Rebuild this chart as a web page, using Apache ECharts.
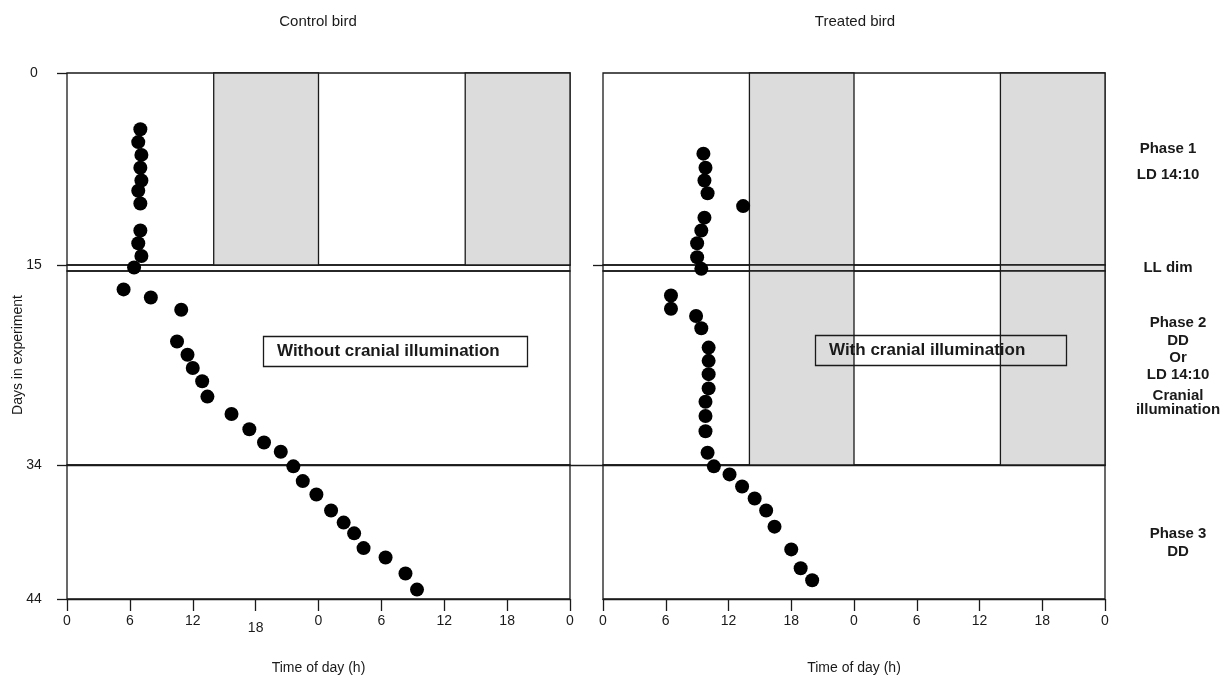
<!DOCTYPE html>
<html><head><meta charset="utf-8">
<script src="https://cdn.jsdelivr.net/npm/echarts@6/dist/echarts.min.js"></script>
<style>html,body{margin:0;padding:0;background:#fff}#c{width:1224px;height:680px}</style>
</head><body><div id="c"></div>
<script>
// ---------- data ----------
const panelTitles = ['Control bird', 'Treated bird'];
const boxTexts = ['Without cranial illumination', 'With cranial illumination'];
const xTickHours = [0, 6, 12, 18, 24, 30, 36, 42, 48];
const xTickLabels = ['0', '6', '12', '18', '0', '6', '12', '18', '0'];
const dayTicks = [0, 15, 34, 44];
const darkHours = [[14, 24], [38, 48]];   // lights-off periods (LD 14:10), double plotted

const controlHours = [7.0, 6.8, 7.1, 7.0, 7.1, 6.8, 7.0, 7.0, 6.8, 7.1, 6.4,
  5.4, 8.0, 10.9, 10.5, 11.5, 12.0, 12.9, 13.4, 15.7, 17.4, 18.8, 20.4, 21.6,
  22.5, 23.8, 25.2, 26.4, 27.4, 28.3, 30.4, 32.3, 33.4];
const controlDays = [4.4, 5.4, 6.4, 7.4, 8.4, 9.2, 10.2, 12.3, 13.3, 14.3, 15.2,
  16.8, 17.6, 18.8, 21.9, 23.2, 24.5, 25.8, 27.3, 29.0, 30.5, 31.8, 32.7, 34.1,
  35.2, 36.2, 37.4, 38.3, 39.1, 40.2, 40.9, 42.1, 43.3];

const treatedHours = [9.6, 9.8, 9.7, 10.0, 13.4, 9.7, 9.4, 9.0, 9.0, 9.4,
  6.5, 6.5, 8.9, 9.4, 10.1, 10.1, 10.1, 10.1, 9.8, 9.8, 9.8, 10.0,
  10.6, 12.1, 13.3, 14.5, 15.6, 16.4, 18.0, 18.9, 20.0];
const treatedDays = [6.3, 7.4, 8.4, 9.4, 10.4, 11.3, 12.3, 13.3, 14.4, 15.3,
  17.4, 18.7, 19.4, 20.6, 22.5, 23.8, 25.1, 26.5, 27.8, 29.2, 30.7, 32.8,
  34.1, 34.7, 35.6, 36.5, 37.4, 38.6, 40.3, 41.7, 42.6];

const phaseLabelLines = [
  ['Phase 1', 'LD 14:10'],
  ['LL dim'],
  ['Phase 2', 'DD', 'Or', 'LD 14:10', 'Cranial', 'illumination'],
  ['Phase 3', 'DD']
];

// ---------- layout ----------
const FONT = '"Liberation Sans", Arial, Helvetica, sans-serif';
const INK = '#1a1a1a';
const cols = [{ left: 67, width: 503 }, { left: 603, width: 502 }];
const rows = [
  { min: 0, max: 15, top: 73, height: 192 },     // phase 1
  { min: 0, max: 1, top: 265, height: 6 },       // LL dim band
  { min: 15, max: 34, top: 271, height: 194 },   // phase 2
  { min: 34, max: 44, top: 465, height: 134 }    // phase 3
];
const shaded = [[true, false, false, false], [true, true, true, false]];
const yLabelVals = [[[0, 15], [], [], [34, 44]], [[], [], [], []]];
const yTickVals = [[[0, 15], [], [], [34, 44]], [[15], [], [], []]];
const hoursData = [controlHours, treatedHours];
const daysData = [controlDays, treatedDays];

function rowOf(d) { return d <= 15.5 ? 0 : (d < 34 ? 2 : 3); }

const grid = [], xAxis = [], yAxis = [], series = [];
cols.forEach((c, p) => {
  rows.forEach((r, ri) => {
    const gi = grid.length;
    grid.push({ left: c.left, width: c.width, top: r.top, height: r.height, show: true,
      borderColor: INK, borderWidth: 1.3, backgroundColor: 'transparent' });
    const isBottom = ri === 3;
    xAxis.push({
      type: 'value', gridIndex: gi, min: 0, max: 48, interval: 6,
      axisLine: { show: isBottom, onZero: false, lineStyle: { color: INK, width: 1.3 } },
      axisTick: { show: isBottom, length: 12, lineStyle: { color: INK, width: 1.3 } },
      axisLabel: {
        show: isBottom, margin: 15, color: INK, fontFamily: FONT, fontSize: 14,
        formatter: v => {
          const lab = xTickLabels[xTickHours.indexOf(v)];
          return (p === 0 && v === 18) ? '{low|' + lab + '}' : lab;
        },
        rich: { low: { padding: [7, 0, 0, 0], fontSize: 14, fontFamily: FONT, color: INK } }
      },
      splitLine: { show: false },
      name: isBottom ? 'Time of day (h)' : '', nameLocation: 'middle', nameGap: 62,
      nameTextStyle: { color: INK, fontFamily: FONT, fontSize: 14 }
    });
    yAxis.push({
      type: 'value', gridIndex: gi, inverse: true, min: r.min, max: r.max,
      axisLine: { show: false },
      axisTick: { show: yTickVals[p][ri].length > 0, customValues: yTickVals[p][ri], length: 10,
        lineStyle: { color: INK, width: 1.3 } },
      axisLabel: { show: yLabelVals[p][ri].length > 0, customValues: yLabelVals[p][ri],
        align: 'center', margin: 33, color: INK, fontFamily: FONT, fontSize: 14,
        formatter: v => dayTicks.includes(v) ? String(v) : '' },
      splitLine: { show: false }
    });
    const pts = [];
    hoursData[p].forEach((h, i) => {
      if (rowOf(daysData[p][i]) === ri) pts.push([h, daysData[p][i]]);
    });
    const s = {
      type: 'scatter', xAxisIndex: gi, yAxisIndex: gi, data: pts, clip: false,
      symbol: 'circle', symbolSize: 14, itemStyle: { color: '#000', opacity: 1 }, silent: true, z: 5
    };
    if (shaded[p][ri]) {
      s.markArea = {
        silent: true,
        itemStyle: { color: '#dcdcdc', borderColor: INK, borderWidth: 1.3, opacity: 1 },
        data: darkHours.map(([a, b]) => [{ xAxis: a }, { xAxis: b }])
      };
    }
    series.push(s);
  });
});

// divider line at day 34 running across both panels
const dg = grid.length;
grid.push({ left: cols[0].left, width: cols[1].left + cols[1].width - cols[0].left, top: 465, height: 10, show: false });
xAxis.push({ type: 'value', gridIndex: dg, position: 'top', min: 0, max: 1,
  axisLine: { show: true, onZero: false, lineStyle: { color: INK, width: 1.3 } },
  axisTick: { show: false }, axisLabel: { show: false }, splitLine: { show: false } });
yAxis.push({ type: 'value', gridIndex: dg, show: false, min: 0, max: 1 });

// boxed annotations
const title = [
  { text: boxTexts[0], left: 263, top: 336, padding: [7, 28, 7, 14], borderColor: INK, borderWidth: 1.3,
    textStyle: { fontFamily: FONT, fontSize: 17, fontWeight: 'bold', color: INK } },
  { text: boxTexts[1], left: 815, top: 335, padding: [7, 41, 7, 14], borderColor: INK, borderWidth: 1.3,
    textStyle: { fontFamily: FONT, fontSize: 17, fontWeight: 'bold', color: INK } }
];

const txt = (x, y, text, opts = {}) => ({
  type: 'text', x, y, silent: true, rotation: opts.rotation || 0,
  style: { text, fill: INK, font: (opts.weight || 'normal') + ' ' + (opts.size || 14) + 'px ' + FONT,
    textAlign: 'center', textVerticalAlign: 'middle' }
});
const graphic = [
  txt(318, 22, panelTitles[0], { size: 15 }),
  txt(855, 22, panelTitles[1], { size: 15 }),
  txt(18, 355, 'Days in experiment', { rotation: Math.PI / 2, size: 14 })
];
const phaseLabelY = [[149, 175], [268], [323, 341, 358, 375, 396, 410], [534, 552]];
const phaseLabelX = [1168, 1168, 1178, 1178];
phaseLabelLines.forEach((lines, gi) => lines.forEach((t, li) =>
  graphic.push(txt(phaseLabelX[gi], phaseLabelY[gi][li], t, { weight: 'bold', size: 15 }))));

const chart = echarts.init(document.getElementById('c'), null, { renderer: 'canvas' });
chart.setOption({ animation: false, backgroundColor: '#fff', title, grid, xAxis, yAxis, series, graphic });
</script></body></html>
